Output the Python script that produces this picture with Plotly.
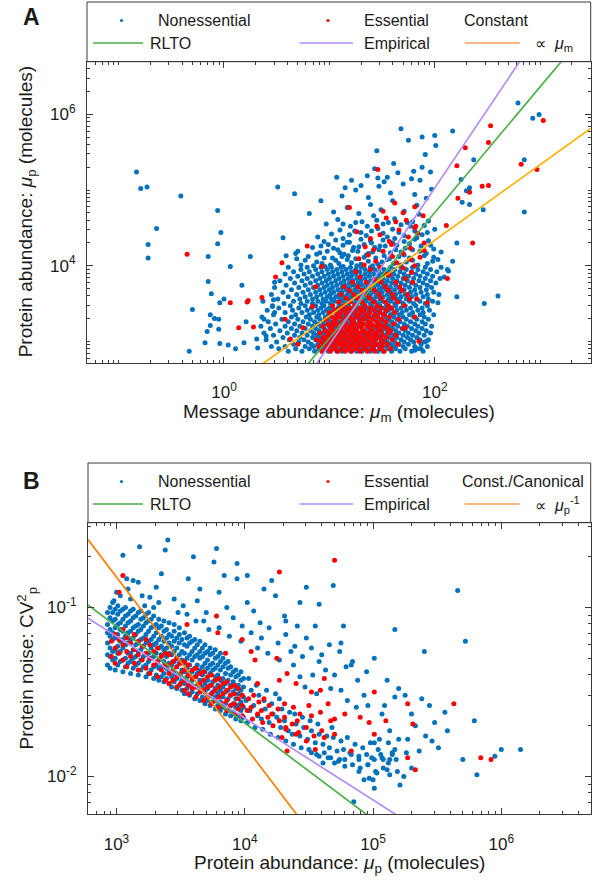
import math
import numpy as np
import plotly.graph_objects as go

W, H = 598, 886

# ---------------------------------------------------------------------------
# Gene-level data in hundredths of a decade (log10 * 100).
# Panel A: x = message abundance mu_m, y = protein abundance mu_p
# Panel B: x = protein abundance mu_p, y = protein noise CV_p^2
# The densest part of each cloud is stored as thin strips (panel A: one
# log10 mu_p per strip, panel B: one log10 mu_p per strip); the rest of
# the genes are stored as (x, y) pairs.
# ---------------------------------------------------------------------------
A_NONESS_ROWS = [
    (287, [61,74,86,93,99,107,112,120,126,131,139,146,151,159,167,178,189]),
    (290, [52,68,81,90,96,103,110,117,123,129,136,142,149,156,163,172,184]),
    (293, [45,58,77,85,94,101,106,114,121,128,133,140,147,154,161,170,181,193]),
    (296, [66,83,89,97,104,113,118,125,132,138,145,150,158,166,175,187]),
    (299, [50,71,80,92,98,108,115,122,127,135,141,149,155,162,171,180,190]),
    (302, [40,62,76,87,95,102,109,116,124,130,137,144,152,160,168,177,186,194]),
    (305, [56,72,84,91,100,106,113,121,128,134,142,148,157,164,174,183]),
    (308, [47,67,79,88,96,103,111,119,125,132,139,146,153,161,170,179,190]),
    (311, [38,60,74,85,93,99,107,114,122,129,135,143,150,158,166,175,185,196]),
    (314, [53,69,82,90,97,105,112,118,126,133,140,147,155,163,172,182,192]),
    (317, [44,64,77,87,95,102,109,117,124,131,137,145,152,160,169,178,188]),
    (320, [35,58,72,84,92,100,106,114,121,128,136,142,150,157,165,174,184,197]),
    (323, [49,67,80,89,97,104,111,119,126,133,139,147,154,162,171,181,191]),
    (326, [42,61,75,86,94,101,108,116,123,130,138,145,152,159,167,177,188]),
    (329, [55,70,82,91,98,106,113,120,128,135,142,149,156,164,173,183,194]),
    (332, [36,64,78,88,96,103,110,118,125,132,140,146,154,161,170,180,190]),
    (335, [47,68,81,90,99,107,114,121,129,136,143,151,158,166,176,186,199]),
    (338, [58,74,85,94,101,109,116,124,131,138,145,153,161,169,179,189]),
    (341, [41,65,79,89,97,104,112,119,127,134,141,148,156,164,173,184,195]),
    (344, [52,71,83,92,100,108,115,122,130,137,144,152,159,168,177,188]),
    (347, [46,63,77,87,95,103,111,118,126,133,140,148,155,163,172,182,193]),
    (350, [57,73,84,93,101,109,117,124,131,139,146,154,162,170,180,191]),
    (353, [37,66,79,89,97,105,113,120,128,135,143,150,158,167,176,186,198]),
    (356, [51,72,84,94,102,110,118,125,133,140,148,156,164,173,183,194]),
    (359, [61,77,88,98,106,114,121,129,136,144,151,159,168,178,189]),
    (362, [45,69,82,92,101,109,117,124,132,139,147,155,163,172,182,193,204]),
    (365, [56,75,87,96,104,112,120,127,135,143,150,158,167,177,187,199]),
    (368, [64,80,91,100,108,116,124,131,139,147,154,162,171,181,192]),
    (371, [48,71,85,95,103,112,119,127,135,142,150,158,166,176,186,197]),
    (374, [59,77,89,98,107,115,123,131,138,146,154,163,172,182,193]),
    (377, [67,82,93,102,111,119,127,135,143,151,159,168,178,189,201]),
    (380, [53,74,87,97,106,114,122,130,139,147,155,164,174,185,196]),
    (383, [63,79,91,100,109,118,126,134,143,151,160,170,180,191,205]),
    (386, [70,84,95,104,113,121,130,138,147,156,165,175,186,198]),
    (389, [58,76,89,99,108,117,125,134,142,151,161,171,182,193]),
    (392, [66,81,93,103,112,121,129,138,147,157,167,178,189,202]),
    (395, [73,87,98,107,116,125,134,143,152,162,173,184,196]),
    (398, [61,79,92,102,111,120,130,139,148,158,168,179,191,206]),
]

A_NONESS_SPARSE = [
    (73,401),(88,405),(96,399),(109,403),(117,408),(126,400),(137,406),(146,402),(157,409),(168,401),(179,407),(193,403),
    (80,412),(91,417),(103,410),(114,415),(122,420),(133,411),(141,418),(152,413),(163,421),(171,414),(186,419),(199,411),
    (69,409),(84,424),(99,428),(108,421),(119,431),(128,425),(139,433),(148,426),(160,430),(172,423),(181,435),(196,427),(206,418),
    (89,438),(102,442),(113,436),(124,446),(135,440),(146,449),(155,438),(166,444),(177,452),(188,441),(200,448),
    (97,455),(108,461),(120,452),(131,458),(142,466),(151,455),(162,462),(174,457),(185,468),(194,459),
    (104,471),(117,477),(128,469),(139,481),(149,474),(160,486),(171,472),(183,480),(192,489),
    (112,492),(125,500),(137,490),(147,505),(158,496),(170,508),(181,494),(197,501),
    (121,513),(136,519),(152,511),(165,523),(178,515),(143,528),(188,530),(130,506),(161,535),
    (85,400),(93,403),(101,401),(113,399),(121,404),(130,402),(141,400),(150,405),(161,403),(173,405),(184,401),(198,406),
    (77,407),(95,410),(106,407),(112,412),(125,409),(135,414),(144,410),(155,408),(166,412),(176,410),(190,413),(203,408),
    (88,415),(98,419),(110,417),(118,413),(127,419),(137,416),(147,421),(158,417),(168,418),(179,421),(192,416),
    (92,426),(104,423),(113,427),(123,424),(133,428),(143,424),(153,426),(164,427),(176,429),(187,426),(199,422),
    (95,432),(106,434),(117,431),(130,435),(140,430),(151,434),(162,436),(171,432),(183,437),(194,433),
    (110,447),(119,441),(130,444),(140,446),(151,443),(160,448),(171,440),(181,446),(193,444),
    (113,455),(125,457),(136,452),(145,460),(156,457),(168,454),(179,458),(190,453),
    (-83,524),(-79,502),(-73,504),(-41,492),(-64,449),(-72,428),(-72,410),(-6,473),(-3,444),(-6,429),
    (-15,412),(6,399),(-15,379),(-12,363),(-30,342),(-13,335),(-9,330),(-5,329),(-5,316),(-13,321),
    (-16,313),(-18,298),(-33,287),(-4,297),(4,295),(11,290),(19,298),(-4,351),(0,356),(17,374),
    (25,412),(21,326),(31,303),(32,291),(38,329),(40,307),(47,355),(46,346),(48,338),(48,378),
    (51,504),(67,495),(56,437),(59,413),(68,416),(70,419),(81,469),(92,486),(107,517),(115,503),
    (145,552),(168,581),(175,566),(188,570),(200,572),(217,578),(191,547),(201,559),(180,525),(155,517),
    (146,516),(186,513),(196,524),(225,514),(237,540),(279,615),(293,595),(299,600),(285,540),(233,503),
    (230,499),(246,474),(285,471),(226,484),(233,481),(221,430),(217,406),(221,359),(212,395),(213,393),
    (209,385),(203,351),(247,350),(260,360),(192,300),(187,290),(181,288),
]

A_ESS_ROWS = [
    (287, [93,101,108,115,121,129,136,143,152]),
    (290, [97,104,112,118,125,133,140,148,158]),
    (293, [90,99,106,113,120,127,134,142,150]),
    (296, [95,102,110,117,123,131,138,146,155,165]),
    (299, [92,100,107,114,122,128,136,143,151]),
    (302, [88,97,104,111,119,126,133,141,149,160]),
    (305, [94,101,109,116,124,130,138,145,154]),
    (308, [98,106,113,120,127,135,142,150,163]),
    (311, [91,100,108,115,122,130,137,145,156]),
    (314, [96,104,111,119,126,133,141,149,158]),
    (317, [101,109,116,123,131,139,147,155,170]),
    (320, [94,103,112,120,128,136,144,152]),
    (323, [99,107,115,124,132,140,148,161]),
    (326, [104,112,121,129,137,145,154]),
    (329, [97,106,115,123,132,141,150,166]),
    (332, [102,110,119,128,137,146,157]),
    (335, [107,116,125,134,143,152]),
    (338, [100,111,120,129,138,148,162]),
    (341, [105,115,124,133,143,154]),
    (344, [110,119,129,139,149,159]),
    (347, [103,114,124,134,145,156,171]),
    (352, [109,120,131,142,153,165]),
    (357, [116,127,138,149,161]),
    (362, [111,123,135,147,160,174]),
    (367, [119,131,143,156,169]),
    (372, [114,127,140,153,167]),
    (378, [122,135,149,163,179]),
]

A_ESS_SPARSE = [
    (129,385),(143,382),(157,388),(172,383),(125,392),(139,395),(154,389),(170,397),(133,401),(148,398),
    (164,404),(181,400),(128,409),(144,406),(160,412),(177,408),(137,414),(151,419),(170,416),(186,411),
    (134,425),(142,421),(159,428),(177,423),(139,436),(157,432),(175,438),(190,430),(148,441),(166,447),
    (184,443),(145,452),(163,458),(181,450),(154,463),(173,460),(189,466),(151,472),(170,470),(162,483),(181,478),
    (-35,415),(6,351),(14,318),(22,352),(23,354),(28,319),(36,358),(49,385),(55,404),(79,426),
    (146,527),(221,532),(229,556),(253,585),(251,563),(303,592),(282,534),(297,527),(245,505),(251,506),
    (233,497),(222,489),(236,430),(211,453),(212,383),(193,351),(183,356),(63,303),(70,296),(75,318),
    (58,329),(84,346),(87,372),(93,399),(181,332),(185,300),(172,318),(176,356),(178,391),(190,420),
    (119,477),(126,445),(182,452),
]

B_NONESS_COLS = [
    (293, [-134,-128,-121,-115,-110,-103]),
    (295, [-136,-129,-124,-117,-113,-106,-100]),
    (297, [-131,-126,-119,-115,-108,-103,-97]),
    (299, [-137,-130,-125,-118,-112,-107,-101]),
    (301, [-134,-127,-123,-116,-110,-104,-99]),
    (303, [-132,-126,-120,-113,-109,-102]),
    (305, [-138,-131,-124,-119,-114,-107,-101]),
    (307, [-135,-130,-122,-117,-111,-105,-100]),
    (309, [-133,-127,-121,-115,-109,-104]),
    (311, [-139,-132,-127,-119,-114,-108,-102]),
    (313, [-136,-130,-125,-118,-112,-106,-101]),
    (315, [-134,-129,-122,-116,-111,-105]),
    (317, [-140,-133,-126,-121,-114,-110,-103]),
    (319, [-137,-131,-125,-119,-113,-107,-102]),
    (321, [-135,-129,-123,-118,-111,-106]),
    (323, [-141,-134,-128,-121,-116,-109,-104]),
    (325, [-139,-132,-127,-120,-114,-108,-103]),
    (327, [-137,-130,-124,-119,-112,-107]),
    (329, [-142,-135,-129,-122,-117,-111,-105]),
    (331, [-140,-134,-127,-121,-115,-110]),
    (333, [-143,-136,-131,-124,-119,-112,-107]),
    (335, [-141,-135,-128,-123,-117,-111]),
    (337, [-144,-139,-132,-125,-120,-114,-108]),
    (339, [-142,-136,-129,-124,-118,-113]),
    (341, [-145,-138,-133,-127,-121,-116,-109]),
    (343, [-147,-141,-134,-128,-123,-117]),
    (345, [-144,-139,-132,-126,-120,-114,-110]),
    (347, [-148,-142,-135,-130,-124,-118]),
    (349, [-146,-140,-133,-128,-121,-116,-112]),
    (351, [-149,-143,-137,-131,-126,-119]),
    (353, [-151,-145,-138,-133,-127,-122,-115]),
    (355, [-148,-141,-136,-130,-123,-118]),
    (357, [-152,-146,-139,-134,-128,-121,-117]),
    (359, [-150,-143,-138,-131,-126,-120]),
    (361, [-154,-147,-141,-136,-129,-124,-119]),
    (363, [-151,-146,-139,-134,-128,-122]),
    (365, [-155,-148,-143,-137,-130,-126,-120]),
    (367, [-153,-147,-140,-135,-129,-124]),
    (369, [-157,-150,-145,-138,-133,-127,-122]),
    (371, [-155,-148,-143,-136,-131,-126]),
    (373, [-158,-152,-146,-139,-134,-128,-124]),
    (375, [-156,-150,-144,-137,-133,-127]),
    (377, [-160,-153,-148,-141,-136,-130,-125]),
    (379, [-158,-151,-146,-140,-134,-129]),
    (381, [-161,-156,-149,-143,-137,-132,-127]),
    (383, [-159,-153,-147,-142,-135,-130]),
    (385, [-163,-157,-150,-145,-139,-133]),
    (387, [-161,-154,-149,-143,-136,-132]),
    (389, [-164,-158,-152,-146,-140,-135]),
    (391, [-162,-157,-150,-144,-138]),
    (393, [-166,-159,-154,-148,-141,-137]),
    (395, [-164,-158,-151,-146,-140]),
    (397, [-167,-161,-156,-149,-143,-138]),
    (399, [-165,-159,-153,-147,-142]),
]

B_NONESS_SPARSE = [
    (402,-168),(404,-161),(401,-155),(405,-149),(403,-142),(408,-171),(410,-164),(407,-158),(411,-152),(409,-146),
    (414,-172),(413,-166),(416,-160),(415,-155),(417,-149),(420,-175),(419,-168),(422,-163),(421,-157),(424,-151),
    (426,-177),(428,-171),(425,-165),(429,-160),(427,-154),(432,-179),(434,-173),(431,-167),(435,-162),
    (438,-181),(437,-175),(440,-169),(439,-163),(444,-183),(443,-176),(446,-171),(445,-165),
    (450,-184),(449,-178),(452,-173),(451,-167),(456,-187),(455,-180),(458,-175),(457,-169),
    (462,-186),(461,-181),(464,-176),(467,-189),(466,-183),(469,-177),(468,-171),
    (473,-191),(472,-185),(475,-179),(478,-190),(477,-184),(480,-177),(484,-193),(483,-187),(486,-181),
    (490,-195),(489,-188),(492,-183),(496,-193),(495,-187),(498,-180),(502,-197),(501,-190),(504,-184),
    (508,-195),(507,-189),(513,-199),(512,-192),(515,-186),(519,-197),(518,-190),
    (305,-69),(318,-64),(340,-60),(338,-66),(335,-80),(378,-65),(360,-70),(376,-73),(394,-74),(384,-81),
    (402,-81),(394,-83),(380,-91),(365,-89),(356,-83),(331,-88),(313,-84),(317,-85),(308,-83),(421,-84),
    (415,-89),(424,-93),(448,-88),(469,-87),(458,-98),(443,-97),(431,-105),(402,-97),(407,-102),(412,-109),
    (566,-90),(517,-113),(572,-120),(501,-130),(540,-126),(477,-111),(475,-121),(474,-126),(484,-132),(479,-135),
    (483,-134),(458,-132),(455,-111),(445,-129),(439,-123),(443,-141),(453,-140),(475,-149),(493,-152),(517,-153),
    (525,-152),(538,-154),(556,-162),(579,-167),(558,-173),(546,-179),(551,-183),(570,-190),(581,-199),(595,-188),
    (600,-184),(615,-184),(524,-200),(521,-205),(513,-190),(507,-163),(513,-173),(505,-178),(501,-180),(501,-207),
    (500,-202),(497,-201),(493,-202),(485,-215),(506,-187),(508,-190),(515,-187),(517,-184),
    (345,-95),(352,-99),(363,-96),(370,-103),(368,-108),(386,-100),(391,-106),(398,-111),(405,-115),(413,-118),
    (419,-112),(426,-121),(432,-116),(436,-126),(427,-131),(418,-127),(410,-124),(397,-120),(388,-117),(380,-112),
    (372,-113),(362,-108),(355,-104),(348,-103),(333,-97),(326,-94),(320,-93),(311,-95),(303,-93),(298,-96),
    (300,-91),(309,-89),(322,-99),(329,-100),(441,-111),(448,-118),(452,-124),(460,-128),(466,-122),(463,-137),
    (470,-140),(488,-143),(495,-138),(511,-143),(520,-148),(530,-163),(533,-170),(541,-176),(548,-168),(527,-178),
    (544,-158),(432,-108),(438,-134),(447,-147),(456,-151),(467,-148),(480,-155),(487,-159),(496,-158),(509,-158),
    (536,-185),(474,-190),(478,-194),(482,-186),(489,-197),(496,-193),(503,-198),(511,-196),(512,-180),(520,-178),
    (526,-186),(530,-195),(489,-190),(470,-192),(465,-189),(458,-188),(452,-186),(461,-192),(499,-189),
]

B_ESS_COLS = [
    (296, [-129,-120]),
    (299, [-133,-124,-116]),
    (302, [-127,-119]),
    (305, [-131,-122,-113]),
    (308, [-135,-126,-118]),
    (311, [-129,-121]),
    (314, [-133,-125,-116]),
    (317, [-137,-128,-120]),
    (320, [-131,-123]),
    (323, [-136,-127,-119]),
    (326, [-139,-130,-122]),
    (329, [-134,-126]),
    (332, [-141,-132,-124]),
    (335, [-137,-129]),
    (338, [-143,-134,-127]),
    (341, [-145,-139,-134,-128]),
    (344, [-143,-137,-132]),
    (347, [-147,-141,-135,-130]),
    (350, [-145,-139,-133]),
    (353, [-149,-143,-137,-132]),
    (356, [-151,-146,-140,-134]),
    (359, [-148,-142,-137]),
    (362, [-153,-147,-141,-136]),
    (365, [-150,-145,-139]),
    (368, [-155,-149,-143,-138]),
    (371, [-153,-147,-141]),
    (374, [-157,-151,-146,-140]),
    (377, [-155,-149,-143]),
    (380, [-159,-153,-147,-142]),
    (383, [-157,-151,-145]),
    (386, [-161,-155,-149,-144]),
    (389, [-158,-152,-147]),
    (392, [-163,-157,-151,-146]),
    (395, [-160,-154,-148]),
    (398, [-164,-158,-152]),
]

B_ESS_SPARSE = [
    (402,-161),(403,-154),(406,-166),(405,-159),(407,-152),(410,-163),(411,-156),(414,-168),(413,-161),(415,-154),
    (418,-165),(419,-158),(422,-170),(421,-163),(427,-167),(426,-160),(432,-172),(431,-165),(437,-169),
    (442,-174),(441,-167),(448,-171),(454,-176),(460,-173),
    (305,-81),(302,-91),(355,-110),(378,-105),(379,-115),(385,-127),(398,-119),(405,-126),(408,-131),(425,-130),
    (427,-143),(440,-145),(452,-150),(462,-142),(470,-166),(478,-163),(490,-165),(501,-150),(427,-79),(470,-72),
    (459,-149),(527,-157),(563,-157),(531,-169),(527,-189),(533,-196),(584,-189),(592,-190),(510,-167),(501,-175),
    (431,-157),(438,-159),(443,-163),(452,-164),(459,-162),(467,-167),(470,-175),(462,-177),(455,-184),(448,-179),
    (440,-175),(432,-171),(429,-177),(433,-185),(497,-168),(465,-157),(433,-139),(450,-158),(410,-145),(483,-185),
]

# Power-law fits: log10(y) = intercept + slope * log10(x)
FIT_NAMES = ["RLTO", "Empirical", "Constant"]
A_FIT_SLOPES = [1.663, 2.074, 1.0]
A_FIT_INTERCEPTS = [1.376, 0.880, 2.336]
B_FIT_SLOPES = [-0.571, -0.484, -1.0]
B_FIT_INTERCEPTS = [0.601, 0.281, 2.18]

# Axis ranges (log10 units) and labelled decades
A_XRANGE = [-1.30, 3.48]
A_YRANGE = [2.713, 6.697]
B_XRANGE = [2.778, 6.697]
B_YRANGE = [-2.224, -0.498]
A_XTICK_EXP = [0, 2]
A_YTICK_EXP = [4, 6]
B_XTICK_EXP = [3, 4, 5, 6]
B_YTICK_EXP = [-2, -1]

# ---------------------------------------------------------------------------
FONT = "Liberation Sans, Arial, Helvetica, sans-serif"
AX = "#3a3a3a"
TXT = "#1a1a1a"
BLUE = "#0072BD"
RED = "#FF0000"
GREEN = "#4DAF4A"
PURPLE = "#B48EF5"
ORANGE_A = "#FFB000"
ORANGE_KEY = "#F5A05A"
ORANGE_B = "#FF8000"


def px(xp):
    return xp / W


def py(yp):
    return 1 - yp / H


def rows_to_pairs(rows):
    return [(x, y) for y, xs in rows for x in xs]


def cols_to_pairs(cols):
    return [(x, y) for x, ys in cols for y in ys]


def unpack(pairs):
    arr = np.asarray(pairs, dtype=float) / 100.0
    return 10 ** arr[:, 0], 10 ** arr[:, 1]


def minor_vals(rng, major_exp):
    vals = []
    for n in range(math.floor(rng[0]) - 1, math.ceil(rng[1]) + 1):
        for k in range(1, 10):
            if k == 1 and n in major_exp:
                continue
            v = k * 10.0 ** n
            if 10 ** rng[0] <= v <= 10 ** rng[1]:
                vals.append(v)
    return vals


def log_axis(rng, exps, domain, anchor, standoff):
    return dict(
        type="log", range=rng, domain=domain, anchor=anchor,
        tickmode="array", tickvals=[10.0 ** e for e in exps],
        ticktext=[f"10<sup>{e}</sup>" for e in exps],
        ticks="inside", ticklen=6, tickwidth=1, tickcolor=AX,
        showline=True, linecolor=AX, linewidth=1, mirror="ticks",
        showgrid=False, zeroline=False,
        tickfont=dict(family=FONT, size=17, color=TXT),
        ticklabelstandoff=standoff,
        minor=dict(tickmode="array", tickvals=minor_vals(rng, exps),
                   ticks="inside", ticklen=3, tickwidth=1, tickcolor=AX,
                   showgrid=False),
    )


fig = go.Figure()


def add_points(pairs, color, xa, ya):
    x, y = unpack(pairs)
    fig.add_trace(go.Scatter(
        x=x, y=y, mode="markers", xaxis=xa, yaxis=ya, hoverinfo="skip",
        marker=dict(size=5, color=color, line=dict(width=0)),
    ))


def add_fits(slopes, intercepts, colors, rng, xa, ya):
    lx = np.linspace(rng[0], rng[1], 60)
    for s, c, col in zip(slopes, intercepts, colors):
        fig.add_trace(go.Scatter(
            x=10 ** lx, y=10 ** (c + s * lx), mode="lines", xaxis=xa, yaxis=ya,
            hoverinfo="skip", line=dict(color=col, width=1.7),
        ))


# Panel A
add_points(rows_to_pairs(A_NONESS_ROWS) + A_NONESS_SPARSE, BLUE, "x", "y")
add_points(rows_to_pairs(A_ESS_ROWS) + A_ESS_SPARSE, RED, "x", "y")
add_fits(A_FIT_SLOPES, A_FIT_INTERCEPTS, [GREEN, PURPLE, ORANGE_A], A_XRANGE, "x", "y")

# Panel B
add_points(cols_to_pairs(B_NONESS_COLS) + B_NONESS_SPARSE, BLUE, "x2", "y2")
add_points(cols_to_pairs(B_ESS_COLS) + B_ESS_SPARSE, RED, "x2", "y2")
add_fits(B_FIT_SLOPES, B_FIT_INTERCEPTS, [GREEN, PURPLE, ORANGE_B], B_XRANGE, "x2", "y2")

# Plot frames (pixel positions)
A_L, A_R, A_T, A_B = 87, 590.7, 61.7, 363
B_L, B_R, B_T, B_B = 88, 590.7, 522.7, 814.3

fig.update_layout(
    width=W, height=H, margin=dict(l=0, r=0, t=0, b=0),
    paper_bgcolor="white", plot_bgcolor="white", showlegend=False,
    font=dict(family=FONT, color=TXT),
    xaxis=log_axis(A_XRANGE, A_XTICK_EXP, [px(A_L), px(A_R)], "y", 14),
    yaxis=log_axis(A_YRANGE, A_YTICK_EXP, [py(A_B), py(A_T)], "x", 7),
    xaxis2=log_axis(B_XRANGE, B_XTICK_EXP, [px(B_L), px(B_R)], "y2", 14),
    yaxis2=log_axis(B_YRANGE, B_YTICK_EXP, [py(B_B), py(B_T)], "x2", 7),
)

shapes = []
annotations = []


def text(x, y, s, size=16, xanchor="left", angle=0, bold=False):
    annotations.append(dict(
        x=px(x), y=py(y), xref="paper", yref="paper", text=f"<b>{s}</b>" if bold else s,
        showarrow=False, xanchor=xanchor, yanchor="middle", textangle=angle,
        font=dict(family=FONT, size=size, color=TXT),
    ))


def legend(top, left, right, bottom, third_title, third_label):
    shapes.append(dict(type="rect", xref="paper", yref="paper",
                       x0=px(left), x1=px(right), y0=py(bottom), y1=py(top),
                       line=dict(color=AX, width=1), fillcolor="white", layer="below"))
    r1 = top + 18.5
    r2 = top + 41
    for cx, col in [(121.5, BLUE), (328, RED)]:
        shapes.append(dict(type="circle", xref="paper", yref="paper",
                           x0=px(cx - 1.6), x1=px(cx + 1.6), y0=py(r1 + 1.6), y1=py(r1 - 1.6),
                           fillcolor=col, line=dict(width=0)))
    for x0, x1, col in [(93, 143, GREEN), (299.6, 353, PURPLE), (464.7, 519.7, ORANGE_KEY)]:
        shapes.append(dict(type="line", xref="paper", yref="paper",
                           x0=px(x0), x1=px(x1), y0=py(r2), y1=py(r2),
                           line=dict(color=col, width=1.7)))
    text(155.5, r1, "Nonessential")
    text(361.8, r1, "Essential")
    text(third_title[1], r1, third_title[0])
    text(147.5, r2, FIT_NAMES[0])
    text(361.8, r2, FIT_NAMES[1])
    text(533, r2 + 1, third_label)


legend(2, A_L, A_R, A_T, (FIT_NAMES[2], 462.3), "\u221d\u00a0\u00a0<i>\u03bc</i><sub>m</sub>")
legend(463, B_L, B_R, B_T, ("Const./Canonical", 459.5),
       "\u221d\u00a0\u00a0<i>\u03bc</i><sub>p</sub><sup>-1</sup>")

# Panel letters
text(31.5, 17.5, "A", size=23, xanchor="center", bold=True)
text(31.5, 480.5, "B", size=23, xanchor="center", bold=True)

# Axis titles
text((A_L + A_R) / 2, 413, "Message abundance: <i>\u03bc</i><sub>m</sub> (molecules)", size=19, xanchor="center")
text(27, (A_T + A_B) / 2, "Protein abundance: <i>\u03bc</i><sub>p</sub> (molecules)", size=19, xanchor="center", angle=-90)
text((B_L + B_R) / 2, 864, "Protein abundance: <i>\u03bc</i><sub>p</sub> (molecules)", size=19, xanchor="center")
text(27, (B_T + B_B) / 2, "Protein noise: CV<sup>2</sup><sub>p</sub>", size=19, xanchor="center", angle=-90)

fig.update_layout(shapes=shapes, annotations=annotations)
fig.write_html("out.html")
